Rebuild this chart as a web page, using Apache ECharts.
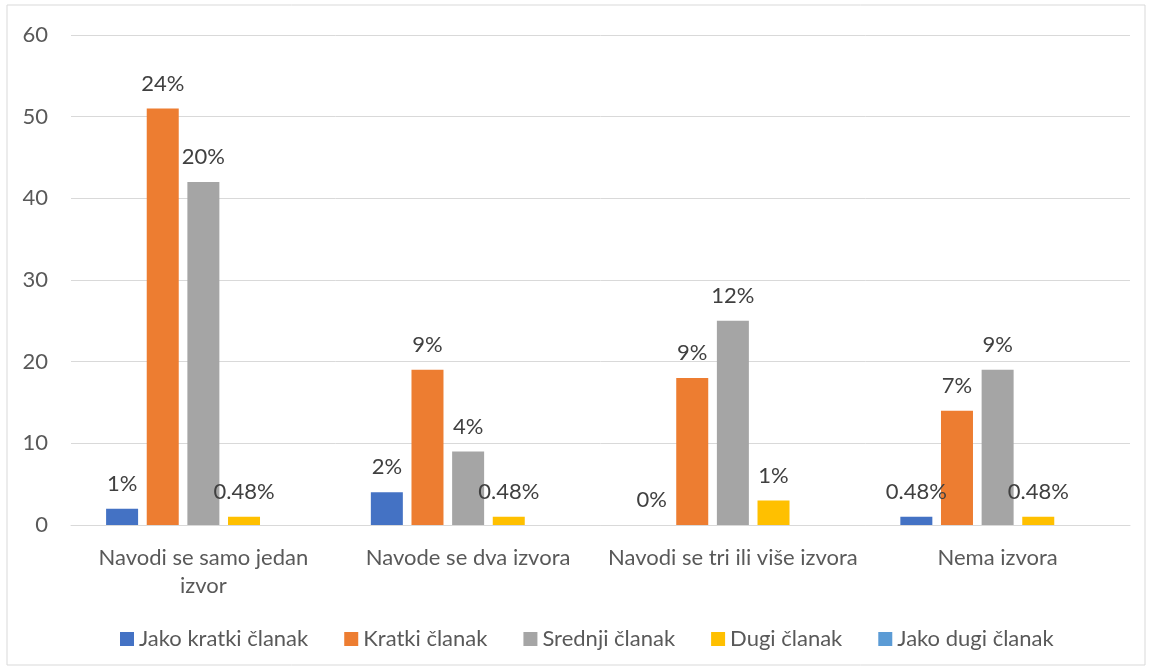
<!DOCTYPE html>
<html>
<head>
<meta charset="utf-8">
<script src="https://cdn.jsdelivr.net/npm/echarts@6/dist/echarts.min.js"></script>
<style>
  html, body { margin: 0; padding: 0; background: #fff; }
  #chart { width: 1152px; height: 671px; }
</style>
</head>
<body>
<div id="chart"></div>
<script>
// kategorije i vrijednosti
const categories = ['Navodi se samo jedan\nizvor', 'Navode se dva izvora', 'Navodi se tri ili više izvora', 'Nema izvora']
const seriesNames = ['Jako kratki članak', 'Kratki članak', 'Srednji članak', 'Dugi članak', 'Jako dugi članak']
const jakoKratki = [2, 4, 0, 1]
const kratki = [51, 19, 18, 14]
const srednji = [42, 9, 25, 19]
const dugi = [1, 1, 3, 1]
const jakoDugi = [0, 0, 0, 0]
// postoci iznad stupaca
const jakoKratkiPct = ['1%', '2%', '0%', '0.48%']
const kratkiPct = ['24%', '9%', '9%', '7%']
const srednjiPct = ['20%', '4%', '12%', '9%']
const dugiPct = ['0.48%', '0.48%', '1%', '0.48%']
const yTicks = { min: 0, max: 60, interval: 10 }

const colors = ['#4472C4', '#ED7D31', '#A5A5A5', '#FFC000', '#5B9BD5']
const font = 'Lato, "Liberation Sans", sans-serif'
const fs = 22

const chart = echarts.init(document.getElementById('chart'))

function makeSeries(name, data, pct, color) {
  return {
    name: name,
    type: 'bar',
    data: data,
    barWidth: 32,
    barGap: '27%',
    itemStyle: { color: color },
    label: {
      show: !!pct,
      position: 'top',
      distance: 14,
      fontFamily: font,
      fontSize: fs,
      color: '#404040',
      formatter: function (p) { return pct ? pct[p.dataIndex] : '' }
    }
  }
}

chart.setOption({
  backgroundColor: '#fff',
  color: colors,
  animation: false,
  graphic: [{
    type: 'rect',
    shape: { x: 7, y: 5, width: 1138, height: 660 },
    style: { fill: 'none', stroke: '#d9d9d9', lineWidth: 1 }
  }],
  grid: {
    left: 71,
    right: 22,
    top: 35,
    bottom: 146
  },
  legend: {
    bottom: 16,
    left: 115,
    icon: 'rect',
    itemWidth: 14,
    itemHeight: 14,
    itemGap: 36,
    textStyle: { fontFamily: font, fontSize: fs, color: '#595959' },
    data: seriesNames
  },
  xAxis: {
    type: 'category',
    data: categories,
    axisLine: { lineStyle: { color: '#d9d9d9' } },
    axisTick: { show: false },
    axisLabel: {
      margin: 19,
      fontFamily: font,
      fontSize: fs,
      color: '#595959',
      lineHeight: 28,
      interval: 0
    }
  },
  yAxis: {
    type: 'value',
    min: yTicks.min,
    max: yTicks.max,
    interval: yTicks.interval,
    axisLine: { show: false },
    axisTick: { show: false },
    splitLine: { lineStyle: { color: '#d9d9d9' } },
    axisLabel: {
      margin: 23,
      fontFamily: font,
      fontSize: fs,
      color: '#595959'
    }
  },
  series: [
    makeSeries(seriesNames[0], jakoKratki, jakoKratkiPct, colors[0]),
    makeSeries(seriesNames[1], kratki, kratkiPct, colors[1]),
    makeSeries(seriesNames[2], srednji, srednjiPct, colors[2]),
    makeSeries(seriesNames[3], dugi, dugiPct, colors[3]),
    makeSeries(seriesNames[4], jakoDugi, null, colors[4])
  ]
})
</script>
</body>
</html>
